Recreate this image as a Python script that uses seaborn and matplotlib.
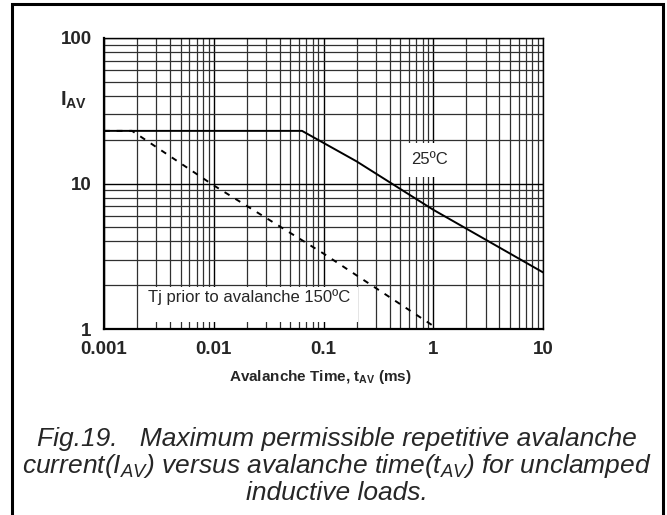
import matplotlib
matplotlib.use("Agg")
import matplotlib.pyplot as plt
import matplotlib.ticker as mticker
from matplotlib.patches import Rectangle
import seaborn as sns
import pandas as pd
import numpy as np

# ---- data ----
t_25c = [0.001, 0.0637, 0.2, 1.0, 10.0]
i_25c = [23.0, 23.0, 14.2, 6.6, 2.45]
t_150c = [0.001, 0.0018, 0.01, 0.1, 1.0]
i_150c = [23.0, 23.0, 9.7, 3.3, 1.05]
series_names = ["25ºC", "Tj prior to avalanche 150ºC"]
x_ticks = [0.001, 0.01, 0.1, 1, 10]
x_tick_labels = ["0.001", "0.01", "0.1", "1", "10"]
y_ticks = [1, 10, 100]
y_tick_labels = ["1", "10", "100"]

df = pd.DataFrame({
    "t": t_25c + t_150c,
    "I": i_25c + i_150c,
    "series": [series_names[0]] * len(t_25c) + [series_names[1]] * len(t_150c),
})

sns.set_style("white")
plt.rcParams["font.family"] = ["Liberation Sans", "DejaVu Sans"]
plt.rcParams["mathtext.fontset"] = "custom"
plt.rcParams["mathtext.rm"] = "Liberation Sans"
plt.rcParams["mathtext.it"] = "Liberation Sans:italic"
plt.rcParams["mathtext.bf"] = "Liberation Sans:bold"

fig = plt.figure(figsize=(6.67, 5.15), dpi=100)
ax = fig.add_axes([104 / 667, 1 - 329 / 515, (543 - 104) / 667, (329 - 38) / 515])

sns.lineplot(data=df, x="t", y="I", style="series", color="black",
             dashes={series_names[0]: "", series_names[1]: (3, 3.5)},
             linewidth=1.4, legend=False, ax=ax, zorder=5)

ax.set_xscale("log")
ax.set_yscale("log")
ax.set_xlim(0.001, 10)
ax.set_ylim(1, 100)

ax.xaxis.set_minor_locator(mticker.LogLocator(base=10, subs=np.arange(2, 10)))
ax.yaxis.set_minor_locator(mticker.LogLocator(base=10, subs=np.arange(2, 10)))
ax.grid(which="major", color="black", linewidth=1.0, zorder=0)
ax.grid(which="minor", color="#303030", linewidth=0.9, zorder=0)
ax.set_axisbelow(True)

ax.set_xticks(x_ticks)
ax.set_xticklabels(x_tick_labels)
ax.set_yticks(y_ticks)
ax.set_yticklabels(y_tick_labels)
ax.tick_params(axis="both", which="major", direction="out", length=5, width=1.2,
               labelsize=13.5, color="black", pad=4)
ax.tick_params(axis="both", which="minor", length=0)
for lbl in ax.get_xticklabels() + ax.get_yticklabels():
    lbl.set_fontweight("bold")

for s in ax.spines.values():
    s.set_visible(True)
    s.set_color("black")
    s.set_linewidth(1.0)
ax.spines["left"].set_linewidth(1.6)
ax.spines["bottom"].set_linewidth(1.6)

ax.set_xlabel("")
ax.set_ylabel("")

# annotation boxes (white background hides grid)
ax.add_patch(Rectangle((0.084, 0.024), 0.495, 0.12, transform=ax.transAxes,
                       facecolor="white", edgecolor="none", zorder=2))
ax.text(0.0209, 1.66, series_names[1], fontsize=12, ha="center", va="center", zorder=6)
ax.add_patch(Rectangle((0.69, 0.522), 0.10, 0.117, transform=ax.transAxes,
                       facecolor="white", edgecolor="none", zorder=2))
ax.text(0.93, 14.6, series_names[0], fontsize=12, ha="center", va="center", zorder=6)

# axis labels
fig.text(74 / 667, 1 - 100 / 515, r"$\mathbf{I_{AV}}$", fontsize=14.5,
         ha="center", va="center")
fig.text(320 / 667, 1 - 377 / 515, r"Avalanche Time, $\mathbf{t_{AV}}$ (ms)",
         fontsize=11, fontweight="bold", ha="center", va="center")

# caption
cap = [r"Fig.19.   Maximum permissible repetitive avalanche",
       r"current($I_{AV}$) versus avalanche time($t_{AV}$) for unclamped",
       r"inductive loads."]
for k, line in enumerate(cap):
    fig.text(337 / 667, 1 - (446 + 27 * k) / 515, line, fontsize=19,
             style="italic", ha="center", va="baseline")

# figure border
fig.patches.append(Rectangle((12 / 667, -0.05), (663 - 12) / 667, 1.05 - 4 / 515,
                             transform=fig.transFigure, fill=False,
                             edgecolor="black", linewidth=2.2))

fig.savefig("out.png", dpi=100)
